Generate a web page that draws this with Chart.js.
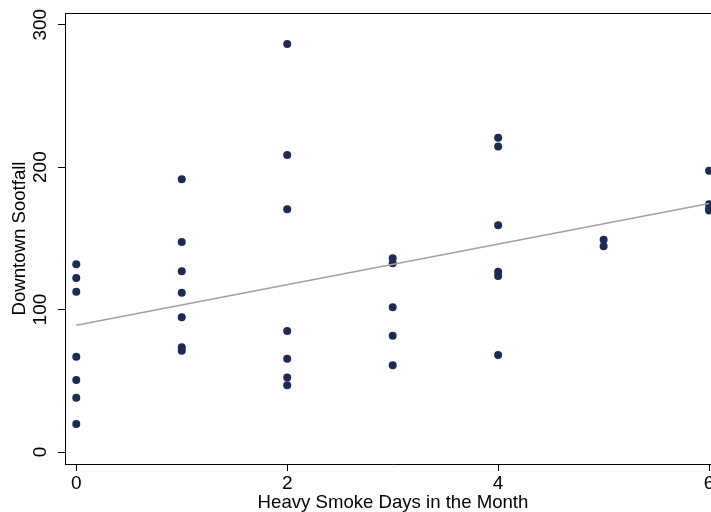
<!DOCTYPE html>
<html>
<head>
<meta charset="utf-8">
<script src="https://cdn.jsdelivr.net/npm/chart.js@4"></script>
<style>
  html, body { margin: 0; padding: 0; background: #fff; overflow: hidden; }
  #wrap { width: 725px; height: 512px; }
</style>
</head>
<body>
<div id="wrap"><canvas id="sootChart" width="725" height="512"></canvas></div>
<script>
// smoke days per month and downtown sootfall, one entry per month
const smokeDays = [
  0, 0, 0, 0, 0, 0, 0,
  1, 1, 1, 1, 1, 1, 1,
  2, 2, 2, 2, 2, 2, 2,
  3, 3, 3, 3, 3,
  4, 4, 4, 4, 4, 4,
  5, 5,
  6, 6, 6, 6
];
const sootfall = [
  131.8, 122.2, 112.6, 66.9, 50.6, 38.1, 19.7,
  191.5, 147.5, 126.9, 111.9, 94.6, 73.5, 71.1,
  286.5, 208.6, 170.4, 85, 65.5, 52.4, 46.8,
  136, 132.5, 101.6, 81.7, 60.9,
  220.7, 214.4, 159.2, 126.6, 123.6, 68.1,
  149, 144.5,
  197.5, 174, 171, 169.5
];

// fitted line end points
const fitX = [0, 6];
const fitY = [89, 174.4];

const xTicks = [0, 2, 4, 6];
const yTicks = [0, 100, 200, 300];

const FONT = "'Liberation Sans', Arial, sans-serif";

const points = smokeDays.map((x, i) => ({ x, y: sootfall[i] }));
const fitLine = fitX.map((x, i) => ({ x, y: fitY[i] }));

// plot region frame (top edge, right edge)
const framePlugin = {
  id: "frame",
  afterDraw(chart) {
    const { ctx, chartArea: a } = chart;
    ctx.save();
    ctx.strokeStyle = "#000";
    ctx.lineWidth = 1;
    ctx.beginPath();
    ctx.moveTo(a.left, a.top + 0.5);
    ctx.lineTo(a.right, a.top + 0.5);
    ctx.lineTo(a.right, a.bottom);
    ctx.stroke();
    ctx.restore();
  }
};

new Chart(document.getElementById("sootChart"), {
  type: "scatter",
  data: {
    datasets: [
      {
        label: "Downtown Sootfall",
        data: points,
        backgroundColor: "#1c2b55",
        borderColor: "#1c2b55",
        borderWidth: 0,
        pointRadius: 4,
        order: 2
      },
      {
        label: "Fitted values",
        type: "line",
        data: fitLine,
        borderColor: "#a0a0a0",
        borderWidth: 1.5,
        pointRadius: 0,
        fill: false,
        order: 1
      }
    ]
  },
  options: {
    responsive: false,
    animation: false,
    devicePixelRatio: 1,
    layout: { padding: { top: 13, right: 0, bottom: 0, left: 0 } },
    plugins: {
      legend: { display: false },
      tooltip: { enabled: false }
    },
    scales: {
      x: {
        type: "linear",
        min: -0.107,
        max: 6.113,
        afterBuildTicks: (s) => { s.ticks = xTicks.map((v) => ({ value: v })); },
        afterFit: (s) => {
          s.height = 48;
          s.paddingLeft = 0;
          s.paddingRight = 0;
        },
        grid: { display: true, drawOnChartArea: false, tickLength: 7, tickColor: "#000" },
        border: { display: true, color: "#000", width: 1 },
        ticks: { color: "#000", font: { family: FONT, size: 19 }, padding: 1, maxRotation: 0 },
        title: {
          display: true,
          text: "Heavy Smoke Days in the Month",
          color: "#000",
          font: { family: FONT, size: 18.6, lineHeight: 1 },
          padding: { top: 0, bottom: 0 }
        }
      },
      y: {
        type: "linear",
        min: -8.4,
        max: 308.2,
        afterBuildTicks: (s) => { s.ticks = yTicks.map((v) => ({ value: v })); },
        afterFit: (s) => {
          s.width = 65;
          s.paddingTop = 0;
          s.paddingBottom = 0;
        },
        grid: { display: true, drawOnChartArea: false, tickLength: 7, tickColor: "#000" },
        border: { display: true, color: "#000", width: 1 },
        ticks: {
          color: "#000",
          font: { family: FONT, size: 19 },
          minRotation: 90,
          maxRotation: 90,
          crossAlign: "center",
          padding: 1
        },
        title: {
          display: true,
          text: "Downtown Sootfall",
          color: "#000",
          font: { family: FONT, size: 18.6, lineHeight: 1 },
          padding: { top: 10.5, bottom: 0 }
        }
      }
    }
  },
  plugins: [framePlugin]
});
</script>
</body>
</html>
